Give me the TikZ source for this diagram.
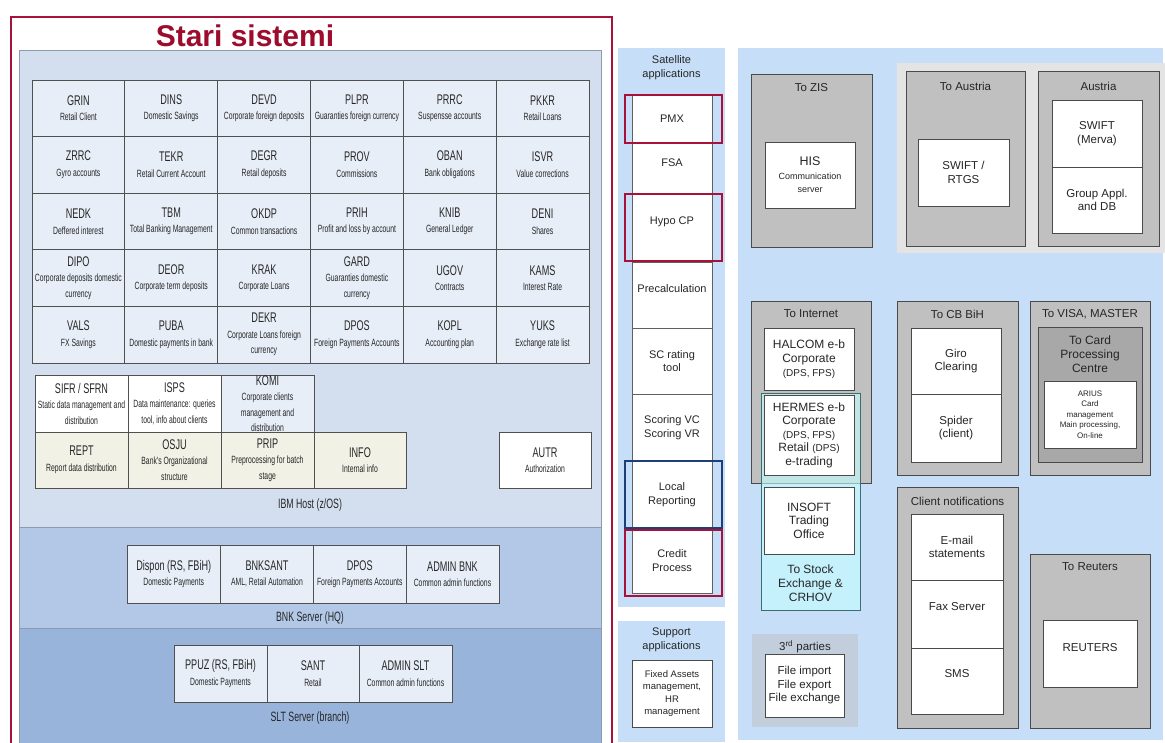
\documentclass[tikz,border=0pt]{standalone}
\usepackage{fontspec}
\setmainfont{Liberation Sans}
\newfontfamily\condfont[FakeStretch=0.65]{Liberation Sans}

\definecolor{framered}{HTML}{A8123A}
\definecolor{titlered}{HTML}{9C0C2C}
\definecolor{ibmfill}{HTML}{D3DFEE}
\definecolor{bnkfill}{HTML}{B2C8E6}
\definecolor{sltfill}{HTML}{98B4DB}
\definecolor{panelline}{HTML}{8C9BB0}
\definecolor{cellfill}{HTML}{E8EEF8}
\definecolor{gridline}{HTML}{505050}
\definecolor{beige}{HTML}{F1F1E6}
\definecolor{paleblue}{HTML}{C6DEF8}
\definecolor{boxgray}{HTML}{C0C0C0}
\definecolor{boxline}{HTML}{4A4A4A}
\definecolor{cardgray}{HTML}{A8A8A8}
\definecolor{grouppanel}{HTML}{E4E4E4}
\definecolor{thirdfill}{HTML}{C2CEDB}
\definecolor{cyanfill}{HTML}{C4FFFF}
\definecolor{cyanline}{HTML}{3C6E70}
\definecolor{navy}{HTML}{1C3F78}
\definecolor{ink}{HTML}{262626}
\definecolor{colline}{HTML}{606060}

% box from corner (x1,y1) to corner (x2,y2): [style]{name}{x1}{y1}{x2}{y2}{text}
\newcommand\bx[7][]{\node[#1, minimum width={(#5)-(#3)}, minimum height={(#6)-(#4)}] (#2) at ({((#3)+(#5))/2},{((#4)+(#6))/2}) {#7};}
\newcommand\code[1]{{\fontsize{14}{15.5}\selectfont #1}}
% cell of the host grid: {name}{column}{row}{code}{description}
\newcommand\gc[5]{\bx[cellb]{#1}{32+92.83*#2}{80+56.6*#3}{32+92.83*(#2+1)}{80+56.6*(#3+1)}{\code{#4}\\#5}}
\newcommand\sm[1]{{\fontsize{10}{12}\selectfont #1}}

\tikzset{
  every node/.style={inner sep=0pt, outer sep=0pt, text=ink},
  cellb/.style={draw=gridline, line width=0.8pt, fill=cellfill, align=center,
    font=\condfont\fontsize{10.5}{15.5}\selectfont},
  whitecell/.style={cellb, fill=white},
  beigecell/.style={cellb, fill=beige},
  hostpanel/.style={draw=panelline, line width=0.6pt},
  hostlbl/.style={font=\condfont\fontsize{13.5}{15}\selectfont},
  bluepanel/.style={fill=paleblue},
  graybox/.style={draw=boxline, line width=1pt, fill=boxgray},
  wbox/.style={draw=boxline, line width=0.8pt, fill=white, align=center,
    font=\fontsize{11.5}{13.5}\selectfont},
  lbl/.style={align=center, font=\fontsize{11.5}{13.5}\selectfont},
  colseg/.style={draw=colline, line width=0.8pt, fill=white, align=center,
    font=\fontsize{11}{13.5}\selectfont},
  redbox/.style={draw=framered, line width=2pt},
  bluebox/.style={draw=navy, line width=2pt},
}

\begin{document}
\begin{tikzpicture}[x=1pt, y=-1pt]
\useasboundingbox (0,0) rectangle (1165,743);
\clip (0,0) rectangle (1165,743);
\fill[white] (0,0) rectangle (1165,743);

% ---------- Stari sistemi ----------
\bx[hostpanel, fill=ibmfill]{ibm}{19}{50}{601}{527}{}
\bx[hostpanel, fill=bnkfill]{bnk}{19}{527}{601}{628}{}
\bx[hostpanel, fill=sltfill]{slt}{19}{628}{601}{760}{}
\node[font=\bfseries\fontsize{30}{34}\selectfont, text=titlered] (title) at (245,36) {Stari sistemi};

\gc{grin}{0}{0}{GRIN}{Retail Client}
\gc{dins}{1}{0}{DINS}{Domestic Savings}
\gc{devd}{2}{0}{DEVD}{Corporate foreign deposits}
\gc{plpr}{3}{0}{PLPR}{Guaranties foreign currency}
\gc{prrc}{4}{0}{PRRC}{Suspensse accounts}
\gc{pkkr}{5}{0}{PKKR}{Retail Loans}
\gc{zrrc}{0}{1}{ZRRC}{Gyro accounts}
\gc{tekr}{1}{1}{TEKR}{Retail Current Account}
\gc{degr}{2}{1}{DEGR}{Retail deposits}
\gc{prov}{3}{1}{PROV}{Commissions}
\gc{oban}{4}{1}{OBAN}{Bank obligations}
\gc{isvr}{5}{1}{ISVR}{Value corrections}
\gc{nedk}{0}{2}{NEDK}{Deffered interest}
\gc{tbm}{1}{2}{TBM}{Total Banking Management}
\gc{okdp}{2}{2}{OKDP}{Common transactions}
\gc{prih}{3}{2}{PRIH}{Profit and loss by account}
\gc{knib}{4}{2}{KNIB}{General Ledger}
\gc{deni}{5}{2}{DENI}{Shares}
\gc{dipo}{0}{3}{DIPO}{Corporate deposits domestic\\currency}
\gc{deor}{1}{3}{DEOR}{Corporate term deposits}
\gc{krak}{2}{3}{KRAK}{Corporate Loans}
\gc{gard}{3}{3}{GARD}{Guaranties domestic\\currency}
\gc{ugov}{4}{3}{UGOV}{Contracts}
\gc{kams}{5}{3}{KAMS}{Interest Rate}
\gc{vals}{0}{4}{VALS}{FX Savings}
\gc{puba}{1}{4}{PUBA}{Domestic payments in bank}
\gc{dekr}{2}{4}{DEKR}{Corporate Loans foreign\\currency}
\gc{dpos}{3}{4}{DPOS}{Foreign Payments Accounts}
\gc{kopl}{4}{4}{KOPL}{Accounting plan}
\gc{yuks}{5}{4}{YUKS}{Exchange rate list}

\bx[whitecell]{sifr}{35}{375}{128}{432}{\code{SIFR / SFRN}\\Static data management and\\distribution}
\bx[whitecell]{isps}{128}{375}{221}{432}{\code{ISPS}\\Data maintenance: queries\\tool, info about clients}
\bx[cellb]{komi}{221}{375}{314}{432}{\code{KOMI}\\Corporate clients\\management and\\distribution}
\bx[beigecell]{rept}{35}{432}{128}{488}{\code{REPT}\\Report data distribution}
\bx[beigecell]{osju}{128}{432}{221}{488}{\code{OSJU}\\Bank's Organizational\\structure}
\bx[beigecell]{prip}{221}{432}{314}{488}{\code{PRIP}\\Preprocessing for batch\\stage}
\bx[beigecell]{info}{314}{432}{406}{488}{\code{INFO}\\Internal info}
\bx[whitecell]{autr}{499}{432}{591}{488}{\code{AUTR}\\Authorization}
\node[hostlbl] (ibml) at (310,505) {IBM Host (z/OS)};

\bx[cellb]{dispon}{127}{545}{220.5}{603}{\code{Dispon (RS, FBiH)}\\Domestic Payments}
\bx[cellb]{bnksant}{220.5}{545}{313.5}{603}{\code{BNKSANT}\\AML, Retail Automation}
\bx[cellb]{bdpos}{313.5}{545}{406}{603}{\code{DPOS}\\Foreign Payments Accounts}
\bx[cellb]{adminbnk}{406}{545}{499}{603}{\code{ADMIN BNK}\\Common admin functions}
\node[hostlbl] (bnkl) at (310,618) {BNK Server (HQ)};

\bx[cellb]{ppuz}{174}{645}{267}{702}{\code{PPUZ (RS, FBiH)}\\Domestic Payments}
\bx[cellb]{sant}{267}{645}{359}{702}{\code{SANT}\\Retail}
\bx[cellb]{adminslt}{359}{645}{452}{702}{\code{ADMIN SLT}\\Common admin functions}
\node[hostlbl] (sltl) at (310,718) {SLT Server (branch)};

\bx[redbox]{stari}{11}{17}{612}{770}{}

% ---------- Satellite and support applications ----------
\bx[bluepanel]{sat}{618}{48}{725}{607}{}
\node[lbl, font=\fontsize{11}{13.5}\selectfont] (satl) at (671.5,67.5) {Satellite\\applications};
\bx[colseg]{pmx}{632}{95}{712}{142}{PMX}
\bx[colseg]{fsa}{632}{142}{712}{194}{}
\node[lbl, font=\fontsize{11}{13.5}\selectfont] (fsal) at (672,163) {FSA};
\bx[colseg]{hypo}{632}{194}{712}{262}{}
\node[lbl, font=\fontsize{11}{13.5}\selectfont] (hypol) at (672,222) {Hypo CP};
\bx[colseg]{precalc}{632}{262}{712}{328}{}
\node[lbl, font=\fontsize{11}{13.5}\selectfont] (precl) at (672,289) {Precalculation};
\bx[colseg]{scrating}{632}{328}{712}{394}{SC rating\\tool}
\bx[colseg]{scoring}{632}{394}{712}{461}{Scoring VC\\Scoring VR}
\bx[colseg]{localrep}{632}{461}{712}{528}{Local\\Reporting}
\bx[colseg]{credit}{632}{528}{712}{593}{Credit\\Process}
\bx[redbox]{pmxf}{625}{95}{722}{143}{}
\bx[redbox]{hypof}{625}{194}{722}{261}{}
\bx[bluebox]{localf}{625}{461}{722}{528}{}
\bx[redbox]{creditf}{625}{530}{722}{596}{}

\bx[bluepanel]{sup}{618}{621}{725}{742}{}
\node[lbl, font=\fontsize{11}{13.5}\selectfont] (supl) at (671.5,640) {Support\\applications};
\bx[colseg, draw=boxline, font=\fontsize{9.5}{12.4}\selectfont]{fixed}{632}{660}{712}{727}{Fixed Assets\\management,\\HR\\management}

% ---------- External interfaces ----------
\bx[bluepanel]{ext}{738}{48}{1163}{740}{}
\bx[fill=grouppanel]{augrp}{897}{63}{1165}{253}{}

\bx[graybox]{zis}{751}{75}{872}{248}{}
\node[lbl] (zisl) at (811.5,88) {To ZIS};
\bx[wbox]{his}{765}{142}{855}{208}{{\fontsize{12.5}{13.5}\selectfont HIS}\\{\fontsize{9}{12}\selectfont Communication}\\{\fontsize{9}{12}\selectfont server}}

\bx[graybox]{toau}{906}{72}{1025}{247}{}
\node[lbl] (toaul) at (965.5,86) {To Austria};
\bx[wbox]{rtgs}{918}{139}{1009}{206}{SWIFT /\\RTGS}

\bx[graybox]{au}{1038}{72}{1159}{247}{}
\node[lbl] (aul) at (1098.5,86) {Austria};
\bx[wbox]{merva}{1052}{100}{1142}{167}{SWIFT\\(Merva)}
\bx[wbox]{grpdb}{1052}{167}{1142}{233}{Group Appl.\\and DB}

\bx[graybox]{inet}{751}{302}{871}{483}{}
\node[lbl] (inetl) at (811,314) {To Internet};
\bx[wbox, font=\fontsize{12}{14}\selectfont]{halcom}{764}{328}{854}{390}{HALCOM e-b\\Corporate\\\sm{(DPS, FPS)}}
\bx[draw=cyanline, line width=1pt, fill=cyanfill, fill opacity=0.6, draw opacity=1]{stock}{761}{393}{860}{610}{}
\bx[wbox, font=\fontsize{12}{13.5}\selectfont]{hermes}{764}{395}{854}{475}{HERMES e-b\\Corporate\\\sm{(DPS, FPS)}\\Retail \sm{(DPS)}\\e-trading}
\bx[wbox, font=\fontsize{12}{13.5}\selectfont]{insoft}{764}{487}{854}{554}{INSOFT\\Trading\\Office}
\node[lbl, font=\fontsize{12}{14}\selectfont] (stockl) at (810.5,583) {To Stock\\Exchange \&\\CRHOV};

\bx[graybox]{cbbih}{897}{302}{1018}{475}{}
\node[lbl] (cbbihl) at (957.5,314) {To CB BiH};
\bx[wbox]{giro}{911}{328}{1001}{394}{Giro\\Clearing}
\bx[wbox]{spider}{911}{394}{1001}{462}{Spider\\(client)}

\bx[graybox]{visa}{1030}{302}{1150}{475}{}
\node[lbl] (visal) at (1090,314) {To VISA, MASTER};
\bx[draw=boxline, line width=1pt, fill=cardgray]{cpc}{1038}{328}{1142}{462}{}
\node[lbl, font=\fontsize{12}{14}\selectfont] (cpcl) at (1090,354) {To Card\\Processing\\Centre};
\bx[wbox, font=\fontsize{8}{10.5}\selectfont]{arius}{1044}{381}{1136}{448}{ARIUS\\Card\\management\\Main processing,\\On-line}

\bx[graybox]{notif}{897}{487}{1018}{728}{}
\node[lbl] (notifl) at (957.5,501) {Client notifications};
\bx[wbox]{email}{911}{514}{1003}{580}{E-mail\\statements}
\bx[wbox]{fax}{911}{580}{1003}{648}{}
\node[lbl] (faxl) at (957,607) {Fax Server};
\bx[wbox]{sms}{911}{648}{1003}{714}{}
\node[lbl] (smsl) at (957,674) {SMS};

\bx[graybox]{reut}{1030}{554}{1150}{728}{}
\node[lbl] (reutl) at (1090,567) {To Reuters};
\bx[wbox]{reuters}{1043}{620}{1137}{687}{}
\node[lbl] (reutersl) at (1090,648) {REUTERS};

\bx[fill=thirdfill]{third}{752}{634}{858}{727}{}
\node[lbl] (thirdl) at (805,647) {3\textsuperscript{rd} parties};
\bx[wbox]{files}{765}{654}{844}{717}{File import\\File export\\File exchange}
\end{tikzpicture}
\end{document}
